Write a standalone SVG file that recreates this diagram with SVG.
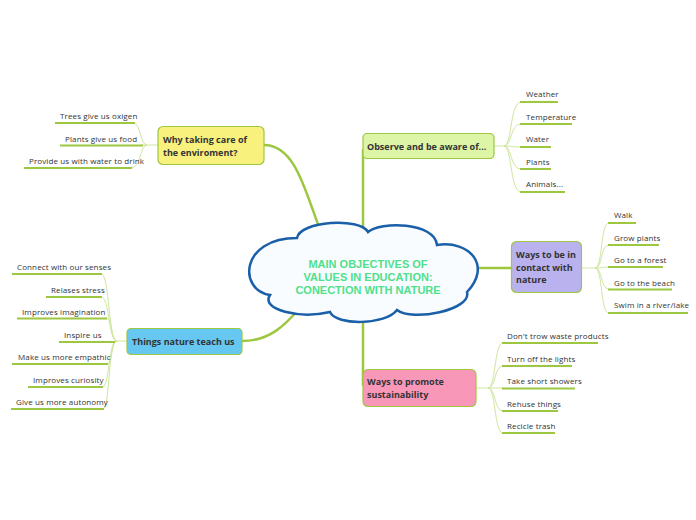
<svg xmlns="http://www.w3.org/2000/svg" width="696" height="520" viewBox="0 0 696 520">
<style>
.main{fill:none;stroke:#9cc73f;stroke-width:2.5;stroke-linecap:round}
.sub{fill:none;stroke:#cfe6a0;stroke-width:1}
.ul{fill:none;stroke:#9cc73f;stroke-width:2}
.box{stroke:#9cc73f;stroke-width:1.2}
.bt{font-family:"Open Sans","Noto Sans",sans-serif;font-size:9px;font-weight:bold;fill:#333}
.st{font-family:"Open Sans","Noto Sans",sans-serif;font-size:8px;letter-spacing:0.12px;fill:#333}
.ct{font-family:"Liberation Sans",Arial,sans-serif;font-size:11px;font-weight:bold;fill:#50e08a;text-anchor:middle}
</style>
<rect width="696" height="520" fill="#ffffff"/>
<g id="connectors">
<path class="main" d="M264 145 C295 145 305 190 320 230"/>
<path class="main" d="M242 341 C270 341 285 325 300 308"/>
<path class="main" d="M363 150 L363 230"/>
<path class="main" d="M470 268 L512 268"/>
<path class="main" d="M363 312 L363 385"/>
<path class="sub" d="M158 145 L147 145"/>
<path class="sub" d="M147 145 C140 145 141 123 133 123"/>
<path class="sub" d="M147 145 L141 145"/>
<path class="sub" d="M147 145 C140 145 141 168 131 168"/>
<path class="sub" d="M494 146 L504 146"/>
<path class="sub" d="M504 146 C512 146 510 102 521 102"/>
<path class="sub" d="M504 146 C512 146 510 124 521 124"/>
<path class="sub" d="M504 146 C512 146 512 147 521 147"/>
<path class="sub" d="M504 146 C512 146 510 169 521 169"/>
<path class="sub" d="M504 146 C512 146 510 192 521 192"/>
<path class="sub" d="M582 268 L595 268"/>
<path class="sub" d="M595 268 C603 268 600 223 609 223"/>
<path class="sub" d="M595 268 C603 268 600 245 609 245"/>
<path class="sub" d="M595 268 C603 268 603 267 609 267"/>
<path class="sub" d="M595 268 C603 268 600 289 609 289"/>
<path class="sub" d="M595 268 C603 268 600 313 609 313"/>
<path class="sub" d="M476 388 L488 388"/>
<path class="sub" d="M488 388 C496 388 494 343 503 343"/>
<path class="sub" d="M488 388 C496 388 494 366 503 366"/>
<path class="sub" d="M488 388 L503 388"/>
<path class="sub" d="M488 388 C496 388 494 411 503 411"/>
<path class="sub" d="M488 388 C496 388 494 433 503 433"/>
<path class="sub" d="M127 341 L117 341"/>
<path class="sub" d="M117 341 C108 341 110 274 101 274"/>
<path class="sub" d="M117 341 C108 341 110 297 101 297"/>
<path class="sub" d="M117 341 C110 341 113 318 106 318"/>
<path class="sub" d="M117 341 L114 342"/>
<path class="sub" d="M117 341 C110 341 113 364 107 364"/>
<path class="sub" d="M117 341 C108 341 110 387 102 387"/>
<path class="sub" d="M117 341 C108 341 110 409 103 409"/>
</g>
<g id="center">
<path d="M297 238 C300 221 360 217 368 232 C380 221 435 222 437 245 C470 240 492 266 467 292 C472 310 412 322 397 310 C386 325 336 326 330 312 C300 319 260 310 270 295 C238 290 240 238 297 238 Z" fill="#f8fcff" stroke="#1a5fa8" stroke-width="2.5"/>
<text class="ct" x="368" y="268">MAIN OBJECTIVES OF</text>
<text class="ct" x="368" y="281">VALUES IN EDUCATION:</text>
<text class="ct" x="368" y="294">CONECTION WITH NATURE</text>
</g>
<g id="why">
<rect class="box" x="158" y="126.5" width="106" height="38" rx="5" fill="#f9f17d"/>
<text class="bt" x="163" y="143">Why taking care of</text>
<text class="bt" x="163" y="156">the enviroment?</text>
</g>
<g id="why-subs">
<path class="ul" d="M55 123 H135"/><text class="st" x="60" y="119">Trees give us oxigen</text>
<path class="ul" d="M60 145.5 H143"/><text class="st" x="65" y="142">Plants give us food</text>
<path class="ul" d="M24 168 H132"/><text class="st" x="29" y="164">Provide us with water to drink</text>
</g>
<g id="observe">
<rect class="box" x="363" y="133.5" width="131" height="25" rx="4" fill="#dcf5a6"/>
<text class="bt" x="367" y="150">Observe and be aware of...</text>
</g>
<g id="observe-subs">
<path class="ul" d="M520 102 H558"/><text class="st" x="526" y="97">Weather</text>
<path class="ul" d="M520 124 H572"/><text class="st" x="526" y="120">Temperature</text>
<path class="ul" d="M520 147 H551"/><text class="st" x="526" y="142">Water</text>
<path class="ul" d="M520 169 H551"/><text class="st" x="526" y="165">Plants</text>
<path class="ul" d="M520 192 H565"/><text class="st" x="526" y="187">Animals...</text>
</g>
<g id="contact">
<rect class="box" x="511.5" y="241.5" width="70" height="51" rx="5" fill="#b9b2ef"/>
<text class="bt" x="516" y="258">Ways to be in</text>
<text class="bt" x="516" y="271">contact with</text>
<text class="bt" x="516" y="283">nature</text>
</g>
<g id="contact-subs">
<path class="ul" d="M608 223 H636"/><text class="st" x="614" y="218">Walk</text>
<path class="ul" d="M608 245 H659"/><text class="st" x="614" y="241">Grow plants</text>
<path class="ul" d="M608 267 H663"/><text class="st" x="614" y="263">Go to a forest</text>
<path class="ul" d="M608 289.5 H672"/><text class="st" x="614" y="286">Go to the beach</text>
<path class="ul" d="M608 313 H688"/><text class="st" x="614" y="308">Swim in a river/lake</text>
</g>
<g id="sustain">
<rect class="box" x="363" y="369.5" width="113" height="37" rx="5" fill="#f997b9"/>
<text class="bt" x="367" y="385">Ways to promote</text>
<text class="bt" x="367" y="398">sustainability</text>
</g>
<g id="sustain-subs">
<path class="ul" d="M502 343 H598"/><text class="st" x="507" y="339">Don't trow waste products</text>
<path class="ul" d="M502 366 H572"/><text class="st" x="507" y="362">Turn off the lights</text>
<path class="ul" d="M502 388.5 H575"/><text class="st" x="507" y="384">Take short showers</text>
<path class="ul" d="M502 411 H558"/><text class="st" x="507" y="407">Rehuse things</text>
<path class="ul" d="M502 433 H555"/><text class="st" x="507" y="429">Recicle trash</text>
</g>
<g id="things">
<rect class="box" x="127" y="328.5" width="115" height="26" rx="4" fill="#66c8f1"/>
<text class="bt" x="132" y="345">Things nature teach us</text>
</g>
<g id="things-subs">
<path class="ul" d="M12 274 H102"/><text class="st" x="17" y="270">Connect with our senses</text>
<path class="ul" d="M46 297 H102"/><text class="st" x="51" y="293">Relases stress</text>
<path class="ul" d="M17 318.5 H107"/><text class="st" x="22" y="315">Improves imagination</text>
<path class="ul" d="M59 342 H115"/><text class="st" x="64" y="338">Inspire us</text>
<path class="ul" d="M12 364 H108"/><text class="st" x="18" y="360">Make us more empathic</text>
<path class="ul" d="M28 387 H103"/><text class="st" x="33" y="383">Improves curiosity</text>
<path class="ul" d="M11 409 H104"/><text class="st" x="16" y="405">Give us more autonomy</text>
</g>
</svg>
